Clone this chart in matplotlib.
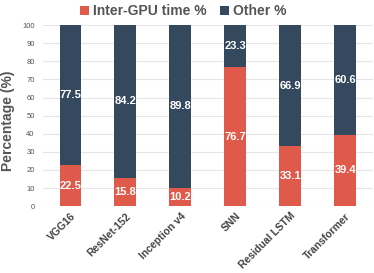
import matplotlib.pyplot as plt
import numpy as np

plt.rcParams['font.family'] = ['Liberation Sans', 'DejaVu Sans']

# data
models = ['VGG16', 'ResNet-152', 'Inception v4', 'SNN', 'Residual LSTM', 'Transformer']
inter_gpu = [22.5, 15.8, 10.2, 76.7, 33.1, 39.4]
other = [77.5, 84.2, 89.8, 23.3, 66.9, 60.6]

red = '#E05A4B'
dark = '#34495E'

fig = plt.figure(figsize=(3.74, 2.73), dpi=100)
ax = fig.add_axes([0.115, 0.245, 0.882, 0.663])

x = np.arange(len(models))
w = 0.4
ax.bar(x, inter_gpu, w, color=red, label='Inter-GPU time %', zorder=3)
ax.bar(x, other, w, bottom=inter_gpu, color=dark, label='Other %', zorder=3)

# value labels in the middle of each segment
for i in range(len(models)):
    ax.text(x[i], inter_gpu[i] / 2, f'{inter_gpu[i]:.1f}', ha='center', va='center',
            color='white', fontsize=8, fontweight='bold', zorder=4)
    ax.text(x[i], inter_gpu[i] + other[i] / 2, f'{other[i]:.1f}', ha='center', va='center',
            color='white', fontsize=8, fontweight='bold', zorder=4)

ax.set_xlim(-0.5, len(models) - 0.5)
ax.set_ylim(0, 100)
ax.set_yticks(range(0, 101, 10))
ax.yaxis.grid(True, color='#e6e6e6', linewidth=0.8, zorder=0)
for s in ax.spines.values():
    s.set_visible(False)
ax.tick_params(axis='both', length=0)
ax.tick_params(axis='y', labelsize=5.5, labelcolor='#555555', pad=6)
ax.set_xticks(x)
ax.set_xticklabels(models, rotation=45, ha='right', rotation_mode='anchor',
                   fontsize=7.5, fontweight='bold', color='#444444')
ax.set_ylabel('Percentage (%)', fontsize=10, fontweight='bold', color='#555555')
ax.yaxis.set_label_coords(-0.085, 0.47)

fig.legend(*ax.get_legend_handles_labels(), loc='upper center',
           bbox_to_anchor=(0.49, 1.005), ncol=2, frameon=False,
           prop={'size': 10, 'weight': 'bold'}, handlelength=0.6, handleheight=0.6,
           handletextpad=0.3, columnspacing=1.0, labelcolor='#555555', borderaxespad=0)

fig.savefig('out.png', dpi=100)
